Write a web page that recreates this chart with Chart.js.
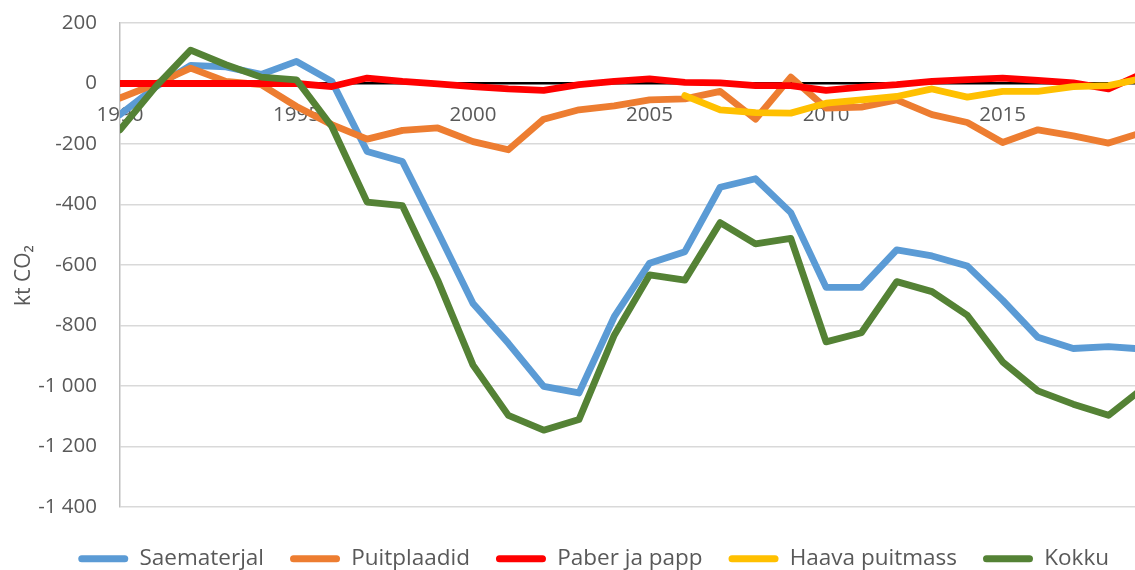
<!DOCTYPE html>
<html>
<head>
<meta charset="utf-8">
<script src="https://cdn.jsdelivr.net/npm/chart.js@4.4.1/dist/chart.umd.min.js"></script>
<style>
  html, body { margin: 0; padding: 0; background: #fff; overflow: hidden; }
</style>
</head>
<body>
<canvas id="chart" width="1135" height="570"></canvas>
<script>
const years = [1990, 1991, 1992, 1993, 1994, 1995, 1996, 1997, 1998, 1999,
               2000, 2001, 2002, 2003, 2004, 2005, 2006, 2007, 2008, 2009,
               2010, 2011, 2012, 2013, 2014, 2015, 2016, 2017, 2018, 2019];
const xTicks = [1990, 1995, 2000, 2005, 2010, 2015];

// kt CO2
const saematerjal = [-103, -12, 60, 55, 30, 73, 7, -225, -258, -490,
                     -727, -859, -1001, -1023, -771, -594, -556, -343, -315, -427,
                     -674, -674, -550, -570, -603, -716, -839, -876, -870, -878];
const puitplaadid = [-48, -2, 51, 7, -4, -76, -136, -184, -155, -147,
                     -192, -219, -118, -87, -74, -54, -51, -26, -118, 21,
                     -81, -78, -54, -103, -129, -195, -153, -173, -197, -160];
const paber = [0, 0, 0, 0, 0, 0, -10, 18, 7, -1,
               -10, -18, -23, -4, 7, 15, 4, 2, -7, -7,
               -23, -12, -4, 7, 13, 18, 10, 2, -18, 35];
const haava = [null, null, null, null, null, null, null, null, null, null,
               null, null, null, null, null, null, -40, -87, -96, -98,
               -65, -54, -43, -18, -45, -26, -26, -10, -7, 18];
const kokku = [-153, -12, 110, 62, 21, 12, -142, -392, -404, -650,
               -931, -1097, -1146, -1111, -832, -633, -650, -460, -530, -512,
               -854, -824, -655, -688, -766, -920, -1016, -1060, -1097, -1005];

const seriesNames = ['Saematerjal', 'Puitplaadid', 'Paber ja papp', 'Haava puitmass', 'Kokku'];
const seriesColors = ['#5B9BD5', '#ED7D31', '#FF0000', '#FFC000', '#548235'];
const seriesValues = [saematerjal, puitplaadid, paber, haava, kokku];

const FONT = "'Open Sans', 'Liberation Sans', sans-serif";
const TEXT = '#595959';

function fmt(v) {
  const s = Math.abs(v).toString().replace(/\B(?=(\d{3})+(?!\d))/g, ' ');
  return (v < 0 ? '-' : '') + s;
}

const datasets = seriesValues.map((vals, i) => ({
  label: seriesNames[i],
  data: years.map((yr, j) => ({ x: yr, y: vals[j] })),
  borderColor: seriesColors[i],
  backgroundColor: seriesColors[i],
  borderWidth: 6.8,
  pointRadius: 0,
  tension: 0,
  borderJoinStyle: 'round',
  borderCapStyle: 'round',
  clip: 0,
  order: seriesValues.length - 1 - i
}));

new Chart(document.getElementById('chart'), {
  type: 'line',
  data: { datasets },
  options: {
    responsive: false,
    animation: false,
    layout: { padding: { top: 23, left: 0, right: 0, bottom: 0 } },
    plugins: {
      tooltip: { enabled: false },
      legend: {
        position: 'bottom',
        align: 'end',
        maxHeight: 63,
        title: { display: true, text: '', padding: 0, font: { size: 10, lineHeight: 1.45 } },
        labels: {
          color: TEXT,
          font: { family: FONT, size: 22.5 },
          boxWidth: 50,
          boxHeight: 7,
          padding: 26,
          useBorderRadius: true,
          borderRadius: 3.5,
          sort: (a, b) => a.datasetIndex - b.datasetIndex,
          generateLabels: chart =>
            Chart.defaults.plugins.legend.labels.generateLabels(chart)
              .map(l => Object.assign(l, { fillStyle: l.strokeStyle, lineWidth: 0 }))
        }
      }
    },
    scales: {
      x: {
        type: 'linear',
        position: { y: 0 },
        min: 1990,
        max: 2018.75,
        grid: { display: false, drawTicks: false },
        border: { display: false },
        afterBuildTicks: s => { s.ticks = xTicks.map(v => ({ value: v })); },
        ticks: {
          color: TEXT,
          font: { family: FONT, size: 20.5 },
          padding: 19,
          maxRotation: 0,
          autoSkip: false,
          callback: v => String(v)
        }
      },
      y: {
        min: -1400,
        max: 200,
        afterFit: s => {
          s.width = 120;
          s.paddingTop = 0;
          s.paddingBottom = 0;
        },
        grid: {
          drawTicks: false,
          color: c => (c.tick && c.tick.value === 0) ? '#000000' : '#d9d9d9',
          lineWidth: c => (c.tick && c.tick.value === 0) ? 2.5 : 1.5
        },
        border: { color: '#bfbfbf', width: 1.5 },
        ticks: {
          stepSize: 200,
          color: TEXT,
          font: { family: FONT, size: 20.5 },
          padding: 23,
          callback: v => fmt(v)
        },
        title: {
          display: true,
          text: 'kt CO\u2082\u2002\u2002',
          color: TEXT,
          font: { family: FONT, size: 21 },
          padding: { top: 11, bottom: 0 }
        }
      }
    }
  }
});
</script>
</body>
</html>
